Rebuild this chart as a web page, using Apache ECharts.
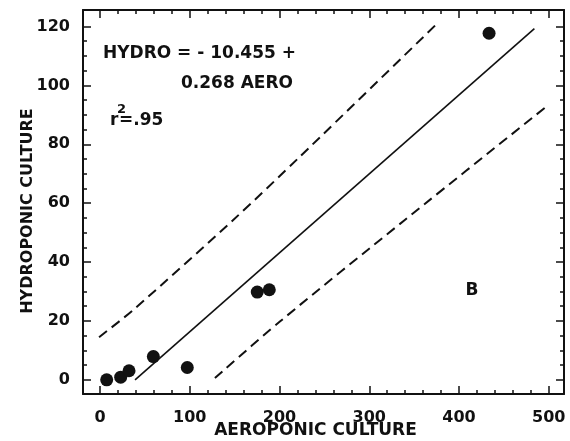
<!DOCTYPE html>
<html>
<head>
<meta charset="utf-8">
<script src="https://cdn.jsdelivr.net/npm/echarts@6/dist/echarts.min.js"></script>
<style>
html, body { margin: 0; padding: 0; background: #fff; }
#chart { width: 570px; height: 441px; }
</style>
</head>
<body>
<div id="chart"></div>
<script>
// Observations: [aeroponic, hydroponic]
const observations = [
  [7.4, 0.0], [23.0, 0.9], [32.3, 3.1], [59.4, 7.9],
  [97.2, 4.2], [175.2, 29.8], [188.6, 30.6], [433.5, 117.7]
];

// Fitted regression: HYDRO = -10.455 + 0.268 AERO
const fitIntercept = -10.455;
const fitSlope = 0.268;
const fitAeroRange = [39, 484];

// Prediction band edges
const upperBand = [[-1.1, 14.5], [37.1, 23.8], [148.4, 54.3], [222.7, 75.8], [376.0, 121.1]];
const lowerBand = [[128.0, 0.6], [200.4, 19.8], [339.6, 54.3], [497.4, 92.8]];

// Axis ticks
const xMajorTicks = [0, 100, 200, 300, 400, 500];
const xMinorTicks = [0, 20, 40, 60, 80, 100, 120, 140, 160, 180, 200, 220, 240, 260, 280, 300,
                     320, 340, 360, 380, 400, 420, 440, 460, 480, 500];
const yMajorTicks = [0, 20, 40, 60, 80, 100, 120];
const yMinorTicks = [0, 5, 10, 15, 20, 25, 30, 35, 40, 45, 50, 55, 60, 65, 70, 75, 80, 85, 90,
                     95, 100, 105, 110, 115, 120];

const xRange = [-19, 517];
const yRange = [-4.8, 125.6];

const INK = '#111';
const FONT = '"DejaVu Sans", "Liberation Sans", sans-serif';

const fitLine = fitAeroRange.map(x => [x, fitIntercept + fitSlope * x]);

function makeAxis(kind, position, ticks, tickLen, withLine, withLabels, extra) {
  const ax = {
    type: 'value',
    position: position,
    min: kind === 'x' ? xRange[0] : yRange[0],
    max: kind === 'x' ? xRange[1] : yRange[1],
    splitLine: { show: false },
    axisLine: { show: withLine, onZero: false, lineStyle: { color: INK, width: 2 } },
    axisTick: {
      show: true, inside: true, length: tickLen, customValues: ticks,
      lineStyle: { color: INK, width: 1.5 }
    },
    axisLabel: withLabels ? {
      show: true, customValues: ticks, color: INK,
      fontFamily: FONT, fontWeight: 'bold', fontSize: 16,
      margin: kind === 'x' ? 16 : 13
    } : { show: false }
  };
  return Object.assign(ax, extra || {});
}

const chart = echarts.init(document.getElementById('chart'), null, { renderer: 'canvas' });

chart.setOption({
  backgroundColor: '#fff',
  animation: false,
  grid: { left: 83, right: 6, top: 10, bottom: 47, containLabel: false, outerBoundsMode: 'none' },
  xAxis: [
    makeAxis('x', 'bottom', xMajorTicks, 8, true, true, {
      name: 'AEROPONIC CULTURE', nameLocation: 'middle', nameGap: 28, nameMoveOverlap: false,
      nameTextStyle: { color: INK, fontFamily: FONT, fontWeight: 'bold', fontSize: 17, padding: [0, 16, 0, 0] }
    }),
    makeAxis('x', 'bottom', xMinorTicks, 4, false, false),
    makeAxis('x', 'top', xMajorTicks, 8, true, false),
    makeAxis('x', 'top', xMinorTicks, 4, false, false)
  ],
  yAxis: [
    makeAxis('y', 'left', yMajorTicks, 8, true, true, {
      name: 'HYDROPONIC CULTURE', nameLocation: 'middle', nameGap: 47, nameMoveOverlap: false,
      nameTextStyle: { color: INK, fontFamily: FONT, fontWeight: 'bold', fontSize: 16, padding: [0, 18, 0, 0] }
    }),
    makeAxis('y', 'left', yMinorTicks, 4, false, false),
    makeAxis('y', 'right', yMajorTicks, 8, true, false),
    makeAxis('y', 'right', yMinorTicks, 4, false, false)
  ],
  series: [
    {
      name: 'upper band', type: 'line', data: upperBand, smooth: 0.3,
      symbol: 'none', lineStyle: { color: INK, width: 2, type: [10, 6] }
    },
    {
      name: 'lower band', type: 'line', data: lowerBand, smooth: 0.3,
      symbol: 'none', lineStyle: { color: INK, width: 2, type: [10, 6] }
    },
    {
      name: 'fit', type: 'line', data: fitLine,
      symbol: 'none', lineStyle: { color: INK, width: 1.6 }
    },
    {
      name: 'observations', type: 'scatter', data: observations,
      symbol: 'circle', symbolSize: 13, itemStyle: { color: INK, opacity: 1 }
    }
  ],
  graphic: [
    { type: 'text', x: 103, y: 54, z: 10,
      style: { text: 'HYDRO = - 10.455 +', fill: INK, font: 'bold 17px ' + FONT, textVerticalAlign: 'middle' } },
    { type: 'text', x: 181, y: 84, z: 10,
      style: { text: '0.268 AERO', fill: INK, font: 'bold 17px ' + FONT, textVerticalAlign: 'middle' } },
    { type: 'text', x: 110, y: 121, z: 10,
      style: { text: 'r', fill: INK, font: 'bold 17px ' + FONT, textVerticalAlign: 'middle' } },
    { type: 'text', x: 117, y: 110, z: 10,
      style: { text: '2', fill: INK, font: 'bold 13px ' + FONT, textVerticalAlign: 'middle' } },
    { type: 'text', x: 119, y: 121, z: 10,
      style: { text: '=.95', fill: INK, font: 'bold 17px ' + FONT, textVerticalAlign: 'middle' } },
    { type: 'text', x: 472, y: 291, z: 10,
      style: { text: 'B', fill: INK, font: 'bold 17px ' + FONT, textAlign: 'center', textVerticalAlign: 'middle' } }
  ]
});
</script>
</body>
</html>
